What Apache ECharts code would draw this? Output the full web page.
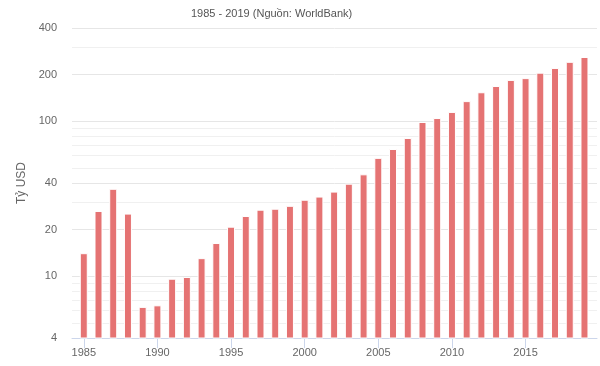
<!DOCTYPE html>
<html>
<head>
<meta charset="utf-8">
<script src="https://cdn.jsdelivr.net/npm/echarts@6/dist/echarts.min.js"></script>
<style>
html,body{margin:0;padding:0;background:#fff;}
#chart{width:600px;height:366px;}
</style>
</head>
<body>
<div id="chart"></div>
<script>
var years = [1985,1986,1987,1988,1989,1990,1991,1992,1993,1994,1995,1996,1997,1998,1999,2000,2001,2002,2003,2004,2005,2006,2007,2008,2009,2010,2011,2012,2013,2014,2015,2016,2017,2018,2019];
var gdp = [14.1,26.4,36.7,25.4,6.35,6.5,9.65,9.9,13.1,16.4,20.9,24.5,26.9,27.3,28.5,31.2,32.7,35.2,39.6,45.5,58.1,66.3,78.1,99,105,115,135,154,169,185,190,206,221,242,260];
var xTickLabels = [1985,1990,1995,2000,2005,2010,2015];
var yMajorTicks = [4,10,20,40,100,200,400];
var yMinorTicks = [5,6,7,8,9,30,50,60,70,80,90,300];
var titleText = '1985 - 2019 (Nguồn: WorldBank)';
var yName = 'Tỷ USD';

var FONT = '"Liberation Sans", Arial, Helvetica, sans-serif';
var seriesData = years.map(function(y, i){ return [y, gdp[i]]; });

var chart = echarts.init(document.getElementById('chart'), null, {renderer:'canvas'});
chart.setOption({
  animation: false,
  backgroundColor: '#ffffff',
  title: {
    text: titleText,
    left: 186, top: 3,
    textStyle: {fontFamily: FONT, fontSize: 11, fontWeight: 'normal', color: '#555'}
  },
  grid: {left: 72, right: 3, top: 28, bottom: 28, containLabel: false, outerBoundsMode: 'none'},
  xAxis: {
    type: 'value',
    min: 1984.2, max: 2019.85,
    axisLine: {show: true, lineStyle: {color: '#ccd6eb', width: 1}},
    axisTick: {show: true, length: 10, lineStyle: {color: '#ccd6eb'}, customValues: xTickLabels},
    axisLabel: {customValues: xTickLabels, color: '#666', fontFamily: FONT, fontSize: 11, margin: 9,
      formatter: function(v){ return String(Math.round(v)); }},
    splitLine: {show: false}
  },
  yAxis: [{
    type: 'log', logBase: 10, min: 4, max: 400,
    name: yName, nameLocation: 'middle', nameGap: 41,
    nameTextStyle: {color: '#666', fontFamily: FONT, fontSize: 12},
    axisLine: {show: false},
    axisTick: {show: false, customValues: yMajorTicks},
    axisLabel: {customValues: yMajorTicks, color: '#666', fontFamily: FONT, fontSize: 11, margin: 15,
      formatter: function(v){ return String(Math.round(v)); }},
    splitLine: {show: true, lineStyle: {color: '#e6e6e6', width: 1}}
  },{
    type: 'log', logBase: 10, min: 4, max: 400, position: 'left',
    axisLine: {show: false},
    axisTick: {show: false, customValues: yMinorTicks},
    axisLabel: {show: false, customValues: yMinorTicks},
    splitLine: {show: true, lineStyle: {color: '#f0f0f0', width: 1}}
  }],
  series: [{
    type: 'bar',
    yAxisIndex: 0,
    data: seriesData,
    barWidth: 8,
    itemStyle: {color: '#e57373', borderColor: '#ffffff', borderWidth: 1},
    z: 5
  }]
});
</script>
</body>
</html>
